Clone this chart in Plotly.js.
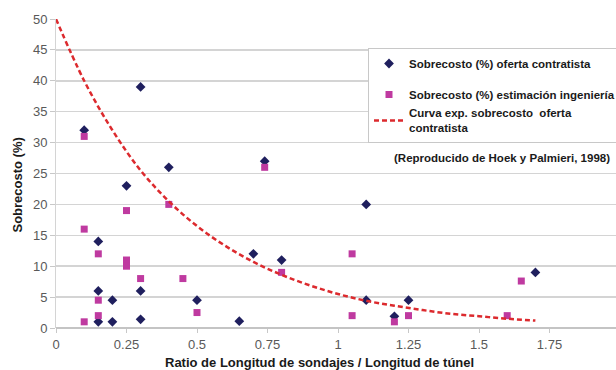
<!DOCTYPE html>
<html>
<head>
<meta charset="utf-8">
<script src="https://cdn.plot.ly/plotly-3.0.1.min.js"></script>
<style>
html,body{margin:0;padding:0;overflow:hidden;background:#fff;}
#chart{width:640px;height:370px;}
</style>
</head>
<body>
<div id="chart"></div>
<script>
// Sobrecosto (%) oferta contratista
const contratistaX = [0.1, 0.3, 0.4, 0.74, 0.25, 0.15, 0.15, 0.15, 0.2, 0.2, 0.3, 0.3, 0.5, 0.65, 0.7, 0.8, 1.1, 1.1, 1.2, 1.25, 1.7];
const contratistaY = [32, 39, 26, 27, 23, 14, 6, 1, 4.5, 1, 6, 1.4, 4.5, 1.1, 12, 11, 20, 4.5, 1.9, 4.5, 9];
// Sobrecosto (%) estimación ingeniería
const ingenieriaX = [0.1, 0.74, 0.1, 0.15, 0.15, 0.15, 0.1, 0.25, 0.25, 0.25, 0.3, 0.4, 0.45, 0.5, 0.8, 1.05, 1.05, 1.2, 1.25, 1.6, 1.65];
const ingenieriaY = [31, 26, 16, 12, 4.5, 2, 1, 19, 11, 10, 8, 20, 8, 2.5, 9, 12, 2, 1, 2, 2, 7.6];
// Curva exp. sobrecosto oferta contratista
const curvaX = [0, 0.1, 0.2, 0.3, 0.4, 0.5, 0.6, 0.7, 0.8, 0.9, 1.0, 1.1, 1.2, 1.3, 1.4, 1.5, 1.6, 1.7];
const curvaY = [50, 40, 32, 25.5, 20.5, 16.5, 13.3, 10.7, 8.6, 6.9, 5.5, 4.4, 3.6, 2.9, 2.3, 1.9, 1.5, 1.2];

const xTicks = [0, 0.25, 0.5, 0.75, 1, 1.25, 1.5, 1.75, 2];
const xTickText = ['0', '0.25', '0.5', '0.75', '1', '1.25', '1.5', '1.75', '2'];
const yTicks = [0, 5, 10, 15, 20, 25, 30, 35, 40, 45, 50];

const FONT = 'Liberation Sans, Arial, sans-serif';
const legendFont = {family: FONT, size: 11.5, color: '#1a1a1a', weight: 'bold'};

const traces = [
  {x: contratistaX, y: contratistaY, type: 'scatter', mode: 'markers',
   name: 'Sobrecosto (%) oferta contratista', legendgroup: 'a',
   marker: {symbol: 'diamond', size: 7.5, color: '#1f1f5e'}},
  {x: ingenieriaX, y: ingenieriaY, type: 'scatter', mode: 'markers',
   name: 'Sobrecosto (%) estimación ingeniería', legendgroup: 'b',
   marker: {symbol: 'square', size: 7, color: '#bf3aa0'}},
  {x: curvaX, y: curvaY, type: 'scatter', mode: 'lines',
   name: 'Curva exp. sobrecosto  oferta<br>contratista', legendgroup: 'b',
   line: {color: '#dc2a2e', width: 2.5, dash: '5px,3px', shape: 'spline'}}
];

const layout = {
  width: 640, height: 370,
  margin: {l: 56, r: 20, t: 19, b: 42},
  paper_bgcolor: '#ffffff', plot_bgcolor: '#ffffff',
  showlegend: true,
  legend: {x: (368 - 56) / 564, y: 1 - (48 - 19) / 309, xanchor: 'left', yanchor: 'top',
    bgcolor: '#ffffff', bordercolor: '#c8c8c8', borderwidth: 1,
    font: legendFont, tracegroupgap: 12, traceorder: 'grouped'},
  xaxis: {range: [0, 2], tickvals: xTicks, ticktext: xTickText,
    showgrid: false, zeroline: false, showline: false,
    ticks: 'outside', ticklen: 4, tickcolor: '#c8c8c8',
    tickfont: {family: FONT, size: 13, color: '#595959'}},
  yaxis: {range: [0, 50], tickvals: yTicks,
    showgrid: true, gridcolor: '#d4d4d4', gridwidth: 1.5,
    zeroline: true, zerolinecolor: '#c4c4c4', zerolinewidth: 1.5,
    showline: true, linecolor: '#d4d4d4', linewidth: 1,
    ticks: 'outside', ticklen: 5, tickcolor: '#c8c8c8',
    tickfont: {family: FONT, size: 13, color: '#595959'}},
  annotations: [
    {text: 'Sobrecosto (%)', xref: 'paper', yref: 'paper', textangle: -90,
     x: (17 - 56) / 564, y: 1 - (185.5 - 19) / 309, xanchor: 'center', yanchor: 'middle',
     showarrow: false,
     font: {family: FONT, size: 13, color: '#1a1a1a', weight: 'bold'}},
    {text: 'Ratio de Longitud de sondajes / Longitud de túnel', xref: 'paper', yref: 'paper',
     x: (319.5 - 56) / 564, y: 1 - (362.5 - 19) / 309, xanchor: 'center', yanchor: 'middle',
     showarrow: false,
     font: {family: FONT, size: 13, color: '#1a1a1a', weight: 'bold'}},
    {text: '(Reproducido de Hoek y Palmieri, 1998)', xref: 'paper', yref: 'paper',
     x: (502 - 56) / 564, y: 1 - (158 - 19) / 309, xanchor: 'center', yanchor: 'middle',
     showarrow: false,
     font: {family: FONT, size: 11.5, color: '#1a1a1a', weight: 'bold'}}
  ]
};

Plotly.newPlot('chart', traces, layout, {displayModeBar: false, staticPlot: true});
</script>
</body>
</html>
